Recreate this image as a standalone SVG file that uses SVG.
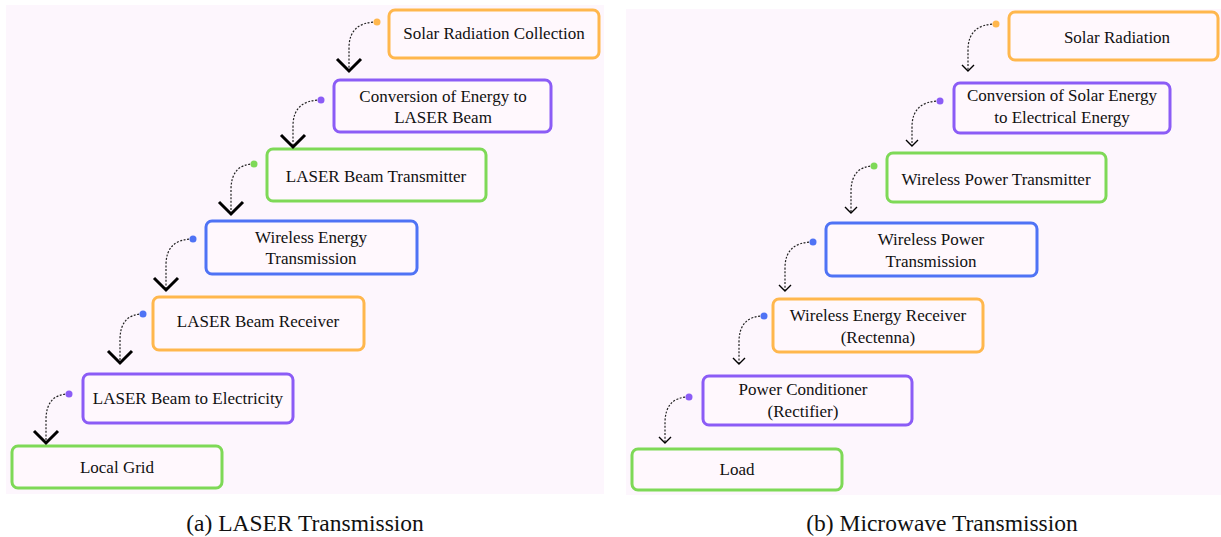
<svg xmlns="http://www.w3.org/2000/svg" width="1221" height="537" viewBox="0 0 1221 537">
<style>
text{font-family:"Liberation Serif","Times New Roman",serif;fill:#111;text-anchor:middle}
.t{font-size:17px}
.cap{font-size:23.5px}
.box{fill:#fff8fd;stroke-width:3}
.o{stroke:#FFB74D}.p{stroke:#8B5CF6}.g{stroke:#7ED957}.b{stroke:#4F73F5}
.dl{fill:none;stroke:#222;stroke-width:1.2;stroke-dasharray:2 1.6}
.hb{fill:none;stroke:#000;stroke-width:3}
.hs{fill:none;stroke:#000;stroke-width:1.4}
</style>
<rect x="6" y="5" width="598" height="489" fill="#fdf6fd"/>
<rect x="626" y="9" width="595" height="486" fill="#fdf6fd"/>

<g id="a1"><rect class="box o" x="389" y="10" width="210" height="48" rx="6"/><text class="t" x="494" y="39">Solar Radiation Collection</text></g>
<g id="a2"><rect class="box p" x="334" y="80" width="217" height="52" rx="6"/><text class="t" x="443" y="102">Conversion of Energy to</text><text class="t" x="443" y="123">LASER Beam</text></g>
<g id="a3"><rect class="box g" x="267" y="149" width="219" height="52" rx="6"/><text class="t" x="376" y="182">LASER Beam Transmitter</text></g>
<g id="a4"><rect class="box b" x="206" y="221" width="211" height="53" rx="6"/><text class="t" x="311" y="243">Wireless Energy</text><text class="t" x="311" y="264">Transmission</text></g>
<g id="a5"><rect class="box o" x="153" y="297" width="211" height="53" rx="6"/><text class="t" x="258" y="327">LASER Beam Receiver</text></g>
<g id="a6"><rect class="box p" x="83" y="374" width="210" height="49" rx="6"/><text class="t" x="188" y="404">LASER Beam to Electricity</text></g>
<g id="a7"><rect class="box g" x="12" y="446" width="210" height="42" rx="6"/><text class="t" x="117" y="473">Local Grid</text></g>

<g id="b1"><rect class="box o" x="1009" y="12" width="209" height="48" rx="6"/><text class="t" x="1117" y="43">Solar Radiation</text></g>
<g id="b2"><rect class="box p" x="954" y="83" width="216" height="50" rx="6"/><text class="t" x="1062" y="101">Conversion of Solar Energy</text><text class="t" x="1062" y="123">to Electrical Energy</text></g>
<g id="b3"><rect class="box g" x="887" y="153" width="219" height="49" rx="6"/><text class="t" x="996" y="185">Wireless Power Transmitter</text></g>
<g id="b4"><rect class="box b" x="826" y="223" width="211" height="53" rx="6"/><text class="t" x="931" y="245">Wireless Power</text><text class="t" x="931" y="267">Transmission</text></g>
<g id="b5"><rect class="box o" x="773" y="299" width="210" height="53" rx="6"/><text class="t" x="878" y="321">Wireless Energy Receiver</text><text class="t" x="878" y="343">(Rectenna)</text></g>
<g id="b6"><rect class="box p" x="703" y="376" width="209" height="49" rx="6"/><text class="t" x="803" y="395">Power Conditioner</text><text class="t" x="803" y="417">(Rectifier)</text></g>
<g id="b7"><rect class="box g" x="632" y="449" width="210" height="41" rx="6"/><text class="t" x="737" y="475">Load</text></g>

<g id="connectors">
<path class="dl" d="M377,22 Q349,22 349,48 L349,70"/><circle cx="377" cy="22" r="3.5" fill="#FFB74D"/><path class="hb" d="M337,59 L349,71 L361,59"/>
<path class="dl" d="M321,100 Q293,100 293,126 L293,146"/><circle cx="321" cy="100" r="3.5" fill="#8B5CF6"/><path class="hb" d="M281,135 L293,147 L305,135"/>
<path class="dl" d="M254,164 Q231,164 231,190 L231,213"/><circle cx="254" cy="164" r="3.5" fill="#7ED957"/><path class="hb" d="M219,202 L231,214 L243,202"/>
<path class="dl" d="M193,239 Q166,239 166,265 L166,289"/><circle cx="193" cy="239" r="3.5" fill="#4F73F5"/><path class="hb" d="M154,278 L166,290 L178,278"/>
<path class="dl" d="M143,314 Q120,314 120,340 L120,362"/><circle cx="143" cy="314" r="3.5" fill="#4F73F5"/><path class="hb" d="M108,351 L120,363 L132,351"/>
<path class="dl" d="M69,394 Q46,394 46,420 L46,442"/><circle cx="69" cy="394" r="3.5" fill="#8B5CF6"/><path class="hb" d="M34,431 L46,443 L58,431"/>

<path class="dl" d="M996,24 Q968,24 968,50 L968,71"/><circle cx="996" cy="24" r="3.5" fill="#FFB74D"/><path class="hs" d="M962,65 L968,71 L974,65"/>
<path class="dl" d="M940,101 Q912,101 912,127 L912,146"/><circle cx="940" cy="101" r="3.5" fill="#8B5CF6"/><path class="hs" d="M906,140 L912,146 L918,140"/>
<path class="dl" d="M874,166 Q851,166 851,192 L851,213"/><circle cx="874" cy="166" r="3.5" fill="#7ED957"/><path class="hs" d="M845,207 L851,213 L857,207"/>
<path class="dl" d="M813,242 Q785,242 785,268 L785,291"/><circle cx="813" cy="242" r="3.5" fill="#4F73F5"/><path class="hs" d="M779,285 L785,291 L791,285"/>
<path class="dl" d="M764,316 Q739,316 739,342 L739,364"/><circle cx="764" cy="316" r="3.5" fill="#4F73F5"/><path class="hs" d="M733,358 L739,364 L745,358"/>
<path class="dl" d="M689,397 Q665,397 665,423 L665,443"/><circle cx="689" cy="397" r="3.5" fill="#8B5CF6"/><path class="hs" d="M659,437 L665,443 L671,437"/>
</g>

<text class="cap" x="305" y="531">(a) LASER Transmission</text>
<text class="cap" x="942" y="531">(b) Microwave Transmission</text>
</svg>
